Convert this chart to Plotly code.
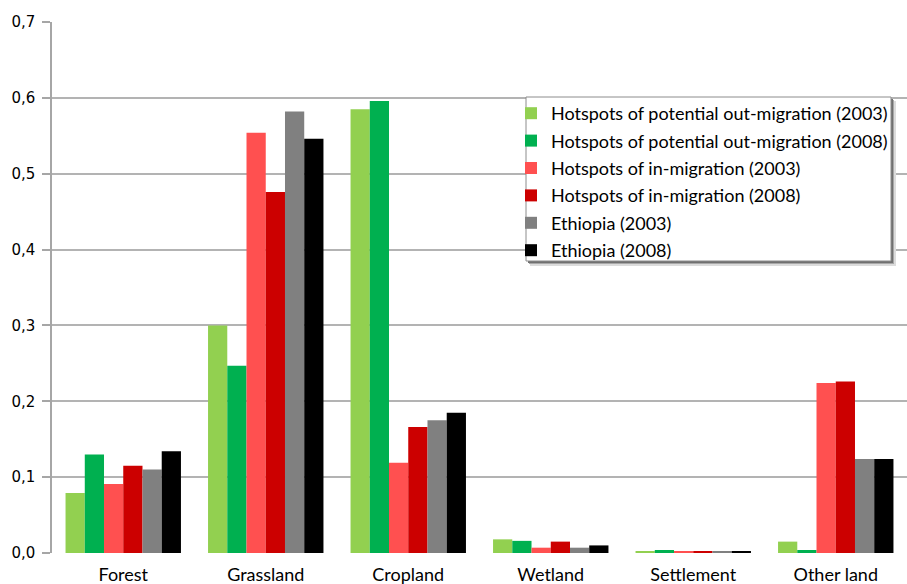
import plotly.graph_objects as go

categories = ["Forest", "Grassland", "Cropland", "Wetland", "Settlement", "Other land"]
series_names = [
    "Hotspots of potential out-migration (2003)",
    "Hotspots of potential out-migration (2008)",
    "Hotspots of in-migration (2003)",
    "Hotspots of in-migration (2008)",
    "Ethiopia (2003)",
    "Ethiopia (2008)",
]
out_2003 = [0.079, 0.300, 0.585, 0.018, 0.002, 0.015]
out_2008 = [0.130, 0.247, 0.596, 0.016, 0.004, 0.004]
in_2003 = [0.091, 0.554, 0.119, 0.007, 0.002, 0.224]
in_2008 = [0.115, 0.476, 0.166, 0.015, 0.002, 0.226]
eth_2003 = [0.110, 0.582, 0.175, 0.007, 0.002, 0.124]
eth_2008 = [0.134, 0.546, 0.185, 0.010, 0.002, 0.124]
colors = ["#92D050", "#00B050", "#FF5050", "#CC0000", "#808080", "#000000"]

series = [out_2003, out_2008, in_2003, in_2008, eth_2003, eth_2008]

fig = go.Figure()
for i, (name, vals, col) in enumerate(zip(series_names, series, colors)):
    fig.add_trace(go.Bar(
        x=categories, y=vals, name=name,
        marker=dict(color=col, line=dict(width=0)),
        legendgroup=f"g{i}",
    ))

W, H = 907, 584
ml, mr, mt, mb = 52, 0, 22, 31
pw, ph = W - ml - mr, H - mt - mb

def px_x(p):
    return (p - ml) / pw

def px_y(p):
    return (H - mb - p) / ph

# legend frame in pixels
bx0, by0, bx1, by1 = 526, 97, 891, 261

def rect(x0, y0, x1, y1, fill, line=None):
    return dict(
        type="rect", xref="paper", yref="paper",
        x0=px_x(x0), x1=px_x(x1), y0=px_y(y1), y1=px_y(y0),
        fillcolor=fill,
        line=dict(width=1, color=line) if line else dict(width=0),
        layer="above",
    )

shapes = [
    rect(bx0 + 4, by0 + 4, bx1 + 5, by1 + 5, "#dcdcdc"),
    rect(bx0 + 3, by0 + 3, bx1 + 3, by1 + 3, "#a8a8a8"),
    rect(bx0 + 2, by0 + 2, bx1 + 2, by1 + 2, "#707070"),
    rect(bx0, by0, bx1, by1, "white", "#8c8c8c"),
]

fig.update_layout(
    width=W, height=H,
    margin=dict(l=ml, r=mr, t=mt, b=mb, pad=0),
    paper_bgcolor="white", plot_bgcolor="white",
    separators=", ",
    barmode="group", bargap=0.19, bargroupgap=0,
    font=dict(family="Lato, Open Sans, sans-serif", size=15, color="#000000"),
    showlegend=True,
    legend=dict(
        x=px_x(511), y=px_y(95), xanchor="left", yanchor="top",
        bgcolor="rgba(0,0,0,0)", borderwidth=0,
        font=dict(size=18, family="Lato, sans-serif"),
        traceorder="grouped", tracegroupgap=1,
        itemwidth=30,
    ),
    shapes=shapes,
    xaxis=dict(
        showgrid=False, showline=False, ticks="",
        tickfont=dict(size=18, family="Lato, sans-serif"),
        ticklabelstandoff=9,
    ),
    yaxis=dict(
        range=[0, 0.7], dtick=0.1, tickformat=".1f",
        showgrid=True, gridcolor="#b3b3b3", gridwidth=1.5,
        showline=True, linecolor="#a6a6a6", linewidth=1.5,
        ticks="outside", ticklen=8, tickcolor="#a6a6a6", tickwidth=1.5,
        tickfont=dict(size=15, family="DejaVu Sans, sans-serif"),
        ticklabelstandoff=4,
        zeroline=False,
    ),
)

fig.write_html("out.html")
